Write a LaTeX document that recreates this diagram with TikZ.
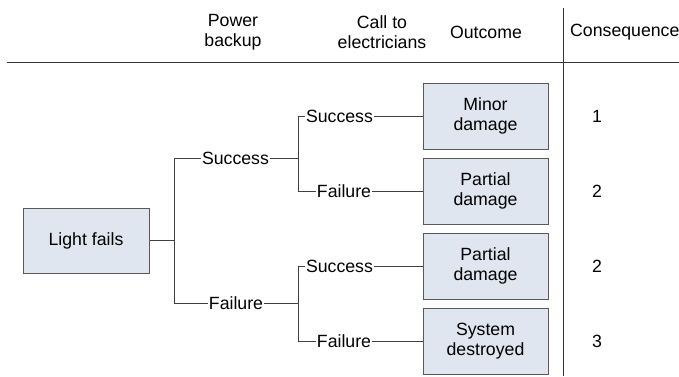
\documentclass[tikz,border=0pt]{standalone}
\usepackage{fontspec}
\setmainfont{Liberation Sans}
\begin{document}
\begin{tikzpicture}[x=1pt,y=-1pt,
  every node/.style={font=\fontsize{17.7}{20}\selectfont},
  rule/.style={draw=black!80, line width=1pt},
  branch/.style={draw=black!75, line width=1pt},
  lbl/.style={inner sep=0.5pt, anchor=center},
  head/.style={align=center, inner sep=0pt},
  outbox/.style={draw=black!65, line width=1pt, fill=boxfill,
    minimum width=125pt, minimum height=66pt, align=center, inner sep=0pt}]
\definecolor{boxfill}{HTML}{DFE6F0}
\useasboundingbox (0,0) rectangle (679,376);

% column headings and frame
\node[head] (hpower) at (233,32) {Power\\backup};
\node[head] (hcall) at (382,32) {Call to\\electricians};
\node[head] (hout) at (486,32) {Outcome};
\node[head, anchor=west] (hcons) at (570,32) {Consequence};
\coordinate (hl) at (7,62);
\coordinate (hr) at (679,62);
\coordinate (vt) at (563,8);
\coordinate (vb) at (563,376);
\path[rule] (hl) -- (hr);
\path[rule] (vt) -- (vb);

% initiating event
\node[outbox, minimum width=126pt, minimum height=65pt] (root) at (86,240.5) {Light fails};

% first branching: power backup
\coordinate (j1) at (174,240.5);
\coordinate (j1t) at (174,158);
\coordinate (j1b) at (174,303);
\node[lbl] (s1) at (235.5,158) {Success};
\node[lbl] (f1) at (236,303) {Failure};
\coordinate (j2t) at (298,158);
\coordinate (j2b) at (298,303);

% second branching: call to electricians
\coordinate (a1) at (298,116);
\coordinate (a2) at (298,191);
\coordinate (b1) at (298,266);
\coordinate (b2) at (298,341);
\node[lbl] (s2) at (339.5,116) {Success};
\node[lbl] (f2) at (344,191) {Failure};
\node[lbl] (s3) at (339.5,266) {Success};
\node[lbl] (f3) at (344,341) {Failure};

% outcomes
\node[outbox] (o1) at (485.5,116) {Minor\\damage};
\node[outbox] (o2) at (485.5,191) {Partial\\damage};
\node[outbox] (o3) at (485.5,266) {Partial\\damage};
\node[outbox] (o4) at (485.5,341) {System\\destroyed};

% consequences
\node (c1) at (597,116) {1};
\node (c2) at (597,191) {2};
\node (c3) at (597,266) {2};
\node (c4) at (597,341) {3};

% tree connectors
\path[branch] (root.east) -- (j1);
\path[branch] (j1t) -- (j1b);
\path[branch] (j1t) -- (s1.west);
\path[branch] (j1b) -- (f1.west);
\path[branch] (s1.east) -- (j2t);
\path[branch] (f1.east) -- (j2b);
\path[branch] (a1) -- (a2);
\path[branch] (b1) -- (b2);
\path[branch] (a1) -- (s2.west);
\path[branch] (a2) -- (f2.west);
\path[branch] (b1) -- (s3.west);
\path[branch] (b2) -- (f3.west);
\path[branch] (s2.east) -- (o1.west);
\path[branch] (f2.east) -- (o2.west);
\path[branch] (s3.east) -- (o3.west);
\path[branch] (f3.east) -- (o4.west);
\end{tikzpicture}
\end{document}
